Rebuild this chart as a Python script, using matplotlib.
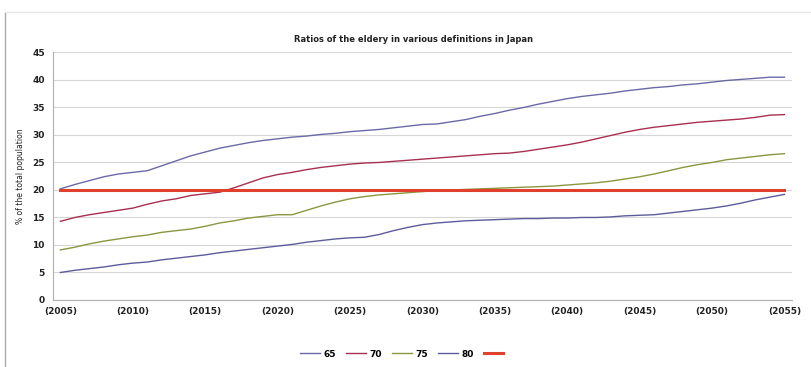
import matplotlib
matplotlib.use("Agg")
import matplotlib.pyplot as plt
from matplotlib.lines import Line2D

years = list(range(2005, 2056))
s65 = [20.2, 21.0, 21.7, 22.4, 22.9, 23.2, 23.5, 24.4, 25.3, 26.2, 26.9, 27.6, 28.1, 28.6, 29.0,
       29.3, 29.6, 29.8, 30.1, 30.3, 30.6, 30.8, 31.0, 31.3, 31.6, 31.9, 32.0, 32.4, 32.8, 33.4,
       33.9, 34.5, 35.0, 35.6, 36.1, 36.6, 37.0, 37.3, 37.6, 38.0, 38.3, 38.6, 38.8, 39.1, 39.3,
       39.6, 39.9, 40.1, 40.3, 40.5, 40.5]
s70 = [14.3, 15.0, 15.5, 15.9, 16.3, 16.7, 17.4, 18.0, 18.4, 19.0, 19.3, 19.6, 20.4, 21.3, 22.2,
       22.8, 23.2, 23.7, 24.1, 24.4, 24.7, 24.9, 25.0, 25.2, 25.4, 25.6, 25.8, 26.0, 26.2, 26.4,
       26.6, 26.7, 27.0, 27.4, 27.8, 28.2, 28.7, 29.3, 29.9, 30.5, 31.0, 31.4, 31.7, 32.0, 32.3,
       32.5, 32.7, 32.9, 33.2, 33.6, 33.7]
s75 = [9.1, 9.6, 10.2, 10.7, 11.1, 11.5, 11.8, 12.3, 12.6, 12.9, 13.4, 14.0, 14.4, 14.9, 15.2,
       15.5, 15.5, 16.3, 17.1, 17.8, 18.4, 18.8, 19.1, 19.3, 19.5, 19.7, 19.9, 20.0, 20.1, 20.2,
       20.3, 20.4, 20.5, 20.6, 20.7, 20.9, 21.1, 21.3, 21.6, 22.0, 22.4, 22.9, 23.5, 24.1, 24.6,
       25.0, 25.5, 25.8, 26.1, 26.4, 26.6]
s80 = [5.0, 5.4, 5.7, 6.0, 6.4, 6.7, 6.9, 7.3, 7.6, 7.9, 8.2, 8.6, 8.9, 9.2, 9.5,
       9.8, 10.1, 10.5, 10.8, 11.1, 11.3, 11.4, 11.9, 12.6, 13.2, 13.7, 14.0, 14.2, 14.4, 14.5,
       14.6, 14.7, 14.8, 14.8, 14.9, 14.9, 15.0, 15.0, 15.1, 15.3, 15.4, 15.5, 15.8, 16.1, 16.4,
       16.7, 17.1, 17.6, 18.2, 18.7, 19.2]
threshold = [20.0] * len(years)

series_labels = ["65", "70", "75", "80", ""]
xtick_years = list(range(2005, 2056, 5))
xtick_labels = ["(%d)" % y for y in xtick_years]
yticks = list(range(0, 46, 5))
title = "Ratios of the eldery in various definitions in Japan"
ylabel = "% of the total population"

c65 = "#6a6aa8"
c70 = "#a8304e"
c75 = "#8c9640"
c80 = "#5c5c9c"
cth = "#e0402c"

fig = plt.figure(figsize=(8.12, 3.67), dpi=100)
ax = fig.add_axes([0.0655, 0.1826, 0.9095, 0.6745])

ax.plot(years, s65, color=c65, lw=1.0, label=series_labels[0])
ax.plot(years, s70, color=c70, lw=1.0, label=series_labels[1])
ax.plot(years, s75, color=c75, lw=1.0, label=series_labels[2])
ax.plot(years, s80, color=c80, lw=1.0, label=series_labels[3])
ax.plot(years, threshold, color=cth, lw=2.2, label=series_labels[4])

ax.set_xlim(2004.5, 2055.5)
ax.set_ylim(0, 45)
ax.set_yticks(yticks)
ax.set_yticklabels([str(v) for v in yticks], fontsize=6.5, fontweight="bold")
ax.set_xticks(xtick_years)
ax.set_xticklabels(xtick_labels, fontsize=6.5, fontweight="bold")
ax.tick_params(axis="both", length=0, pad=6, colors="#222222")
ax.tick_params(axis="x", pad=5)

ax.grid(axis="y", color="#d6d6d6", lw=0.8)
ax.set_axisbelow(True)
for s in ["top", "right"]:
    ax.spines[s].set_visible(False)
ax.spines["left"].set_color("#b0b0b0")
ax.spines["bottom"].set_color("#b0b0b0")

fig.text(0.509, 0.893, title, ha="center", va="center", fontsize=6, fontweight="bold", color="#222222")
fig.text(0.025, 0.52, ylabel, ha="center", va="center", rotation=90, fontsize=5.5, color="#222222")

# outer frame lines (scanned chart border)
fig.add_artist(Line2D([0.0065, 0.0065], [0.0, 0.965], color="#aaaaaa", lw=1.0, transform=fig.transFigure))
fig.add_artist(Line2D([0.0065, 1.0], [0.967, 0.967], color="#e4e4e4", lw=0.8, transform=fig.transFigure))

handles = ax.get_lines()
leg = fig.legend(handles, series_labels, loc="center", bbox_to_anchor=(0.497, 0.035), ncol=5,
                 frameon=False, handlelength=2.2, columnspacing=1.1, handletextpad=0.4,
                 prop={"size": 6.5, "weight": "bold"})

fig.savefig("out.png", dpi=100)
